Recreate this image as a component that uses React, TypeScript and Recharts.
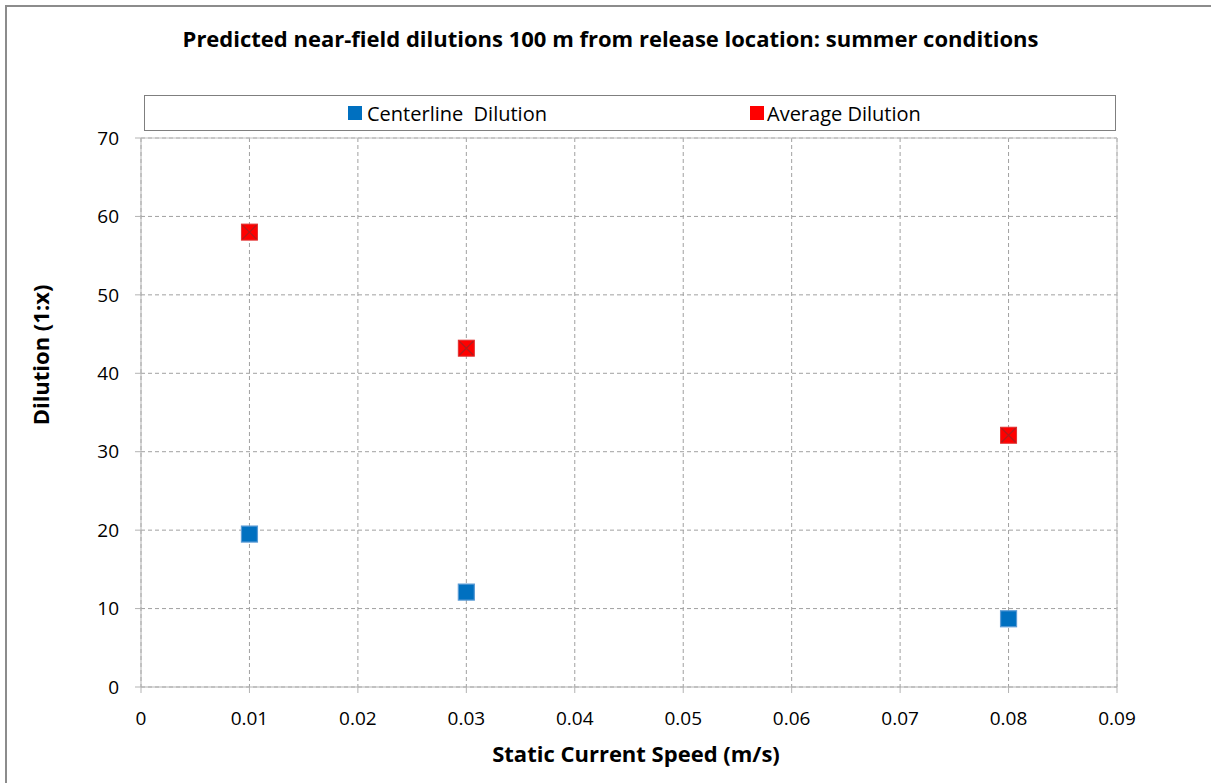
import { ScatterChart, Scatter, XAxis, YAxis, CartesianGrid, ReferenceLine } from 'recharts'

const speeds = [0.01, 0.03, 0.08]
const centerlineDilution = [19.5, 12.1, 8.7]
const averageDilution = [58, 43.2, 32.1]
const xTicks = [0, 0.01, 0.02, 0.03, 0.04, 0.05, 0.06, 0.07, 0.08, 0.09]
const yTicks = [0, 10, 20, 30, 40, 50, 60, 70]

const centerlineData = speeds.map((x, i) => ({ x, y: centerlineDilution[i] }))
const averageData = speeds.map((x, i) => ({ x, y: averageDilution[i] }))

const FONT = '"Open Sans", sans-serif'

const BlueSquare = (props: any) => {
  const { cx, cy } = props
  return <rect x={cx - 8} y={cy - 8} width={16} height={16} fill="#0070c0" stroke="#5b9bd5" strokeWidth={1.2} />
}

const RedSquare = (props: any) => {
  const { cx, cy } = props
  return (
    <g>
      <rect x={cx - 8} y={cy - 8} width={16} height={16} fill="#ff0000" stroke="#e03030" strokeWidth={1} />
      <path
        d={`M${cx - 7},${cy - 7}L${cx + 7},${cy + 7}M${cx + 7},${cy - 7}L${cx - 7},${cy + 7}`}
        stroke="#b01c1c"
        strokeWidth={1.3}
      />
    </g>
  )
}

export default function App() {
  return (
    <div style={{ position: 'absolute', left: 0, top: 0, width: 1211, height: 783, background: '#fff', overflow: 'hidden' }}>
      <div
        style={{
          position: 'absolute',
          left: 5,
          top: 5,
          width: 1300,
          height: 900,
          borderLeft: '2px solid #8c8c8c',
          borderTop: '2px solid #8c8c8c',
        }}
      />
      <div style={{ position: 'absolute', left: 0, top: 0 }}>
        <ScatterChart width={1211} height={783} margin={{ top: 138, right: 94, bottom: 36, left: 81 }}>
          <CartesianGrid stroke="#a0a0a0" strokeDasharray="4 3" />
          <XAxis
            type="number"
            dataKey="x"
            domain={[0, 0.09]}
            ticks={xTicks}
            interval={0}
            height={60}
            tickSize={6}
            tickMargin={19}
            stroke="#b3b3b3"
            tick={{ fill: '#000', fontSize: 19, fontFamily: FONT }}
            tickFormatter={(v: number) => String(v)}
          />
          <YAxis
            type="number"
            dataKey="y"
            domain={[0, 70]}
            ticks={yTicks}
            interval={0}
            width={60}
            tickSize={6}
            tickMargin={16}
            stroke="#b3b3b3"
            tick={{ fill: '#000', fontSize: 19, fontFamily: FONT }}
          />
          <ReferenceLine y={70} stroke="#c0c0c0" strokeWidth={1} />
          <ReferenceLine x={0.09} stroke="#c0c0c0" strokeWidth={1} />
          <Scatter name="Centerline  Dilution" data={centerlineData} shape={BlueSquare} isAnimationActive={false} />
          <Scatter name="Average Dilution" data={averageData} shape={RedSquare} isAnimationActive={false} />
        </ScatterChart>
      </div>
      <div
        style={{
          position: 'absolute',
          left: 0,
          top: 23,
          width: 1221,
          lineHeight: '30px',
          textAlign: 'center',
          fontFamily: FONT,
          fontWeight: 'bold',
          fontSize: 22,
          color: '#000',
        }}
      >
        Predicted near-field dilutions 100 m from release location: summer conditions
      </div>
      <div
        style={{
          position: 'absolute',
          left: 144,
          top: 95,
          width: 970,
          height: 34,
          border: '1px solid #7f7f7f',
          background: '#fff',
          fontFamily: FONT,
          fontSize: 20,
          color: '#000',
        }}
      >
        <div style={{ position: 'absolute', left: 203, top: 3, height: 28, display: 'flex', alignItems: 'center' }}>
          <span style={{ width: 14, height: 14, background: '#0070c0', display: 'inline-block', marginRight: 5 }} />
          <span style={{ whiteSpace: 'pre' }}>Centerline  Dilution</span>
        </div>
        <div style={{ position: 'absolute', left: 605, top: 3, height: 28, display: 'flex', alignItems: 'center' }}>
          <span style={{ width: 14, height: 14, background: '#ff0000', display: 'inline-block', marginRight: 3 }} />
          <span>Average Dilution</span>
        </div>
      </div>
      <div
        style={{
          position: 'absolute',
          left: 636 - 200,
          top: 738,
          width: 400,
          lineHeight: '30px',
          textAlign: 'center',
          fontFamily: FONT,
          fontWeight: 'bold',
          fontSize: 22,
          color: '#000',
        }}
      >
        Static Current Speed (m/s)
      </div>
      <div
        style={{
          position: 'absolute',
          left: 40 - 100,
          top: 355 - 15,
          width: 200,
          height: 30,
          lineHeight: '30px',
          textAlign: 'center',
          transform: 'rotate(-90deg)',
          fontFamily: FONT,
          fontWeight: 'bold',
          fontSize: 22,
          color: '#000',
        }}
      >
        Dilution (1:x)
      </div>
    </div>
  )
}
